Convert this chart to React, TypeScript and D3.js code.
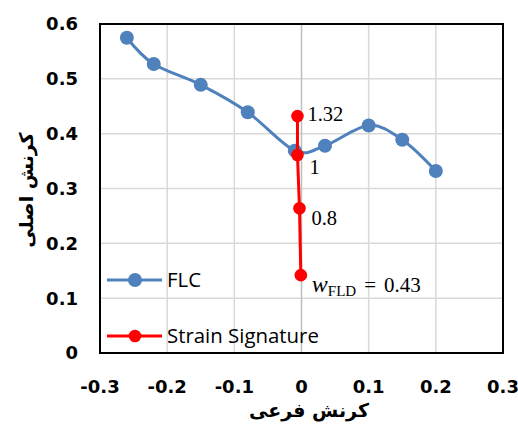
import React from "react";
import * as d3 from "d3";

const flcX = [-0.26, -0.22, -0.15, -0.08, -0.01, 0.035, 0.1, 0.15, 0.2];
const flcY = [0.575, 0.527, 0.489, 0.439, 0.369, 0.378, 0.415, 0.389, 0.332];
const sigX = [-0.006, -0.006, -0.003, -0.001];
const sigY = [0.432, 0.361, 0.264, 0.142];
const sigLabels = ["1.32", "1", "0.8"];
const xTicks = [-0.3, -0.2, -0.1, 0, 0.1, 0.2, 0.3];
const yTicks = [0, 0.1, 0.2, 0.3, 0.4, 0.5, 0.6];
const xTitle = "کرنش فرعی";
const yTitle = "کرنش اصلی";
const legendNames = ["FLC", "Strain Signature"];

const W = 518, H = 424;
const L = 100, R = 503, T = 24, B = 353;
const BLUE = "#4f81bd";
const RED = "#ff0000";

export default function App() {
  const x = d3.scaleLinear().domain([-0.3, 0.3]).range([L, R]);
  const y = d3.scaleLinear().domain([0, 0.6]).range([B, T]);
  const flc = flcX.map((v, i) => [v, flcY[i]] as [number, number]);
  const sig = sigX.map((v, i) => [v, sigY[i]] as [number, number]);
  const smooth = d3.line<[number, number]>().x(d => x(d[0])).y(d => y(d[1])).curve(d3.curveCatmullRom.alpha(0));
  const straight = d3.line<[number, number]>().x(d => x(d[0])).y(d => y(d[1]));
  const fmt = (v: number) => (v === 0 ? "0" : d3.format(".1f")(v).replace("\u2212", "-"));
  const tickFont = "'DejaVu Sans', sans-serif";
  const labelOffsets = [
    { dx: 10, dy: 5 },
    { dx: 12, dy: 19 },
    { dx: 12, dy: 17 },
  ];
  return (
    <svg width={W} height={H} style={{ position: "absolute", left: 0, top: 0, background: "#fff" }}>
      <rect x={0} y={0} width={W} height={H} fill="#fff" />
      {yTicks.filter(t => t > 0 && t < 0.6).map(t => (
        <line key={"gy" + t} x1={L} x2={R} y1={y(t)} y2={y(t)} stroke="#d9d9d9" strokeWidth={1.5} />
      ))}
      {xTicks.filter(t => t !== 0 && Math.abs(t) < 0.3).map(t => (
        <line key={"gx" + t} x1={x(t)} x2={x(t)} y1={T} y2={B} stroke="#d9d9d9" strokeWidth={1.5} />
      ))}
      <line x1={x(0)} x2={x(0)} y1={T} y2={B} stroke="#bfbfbf" strokeWidth={1.5} />
      <rect x={L} y={T} width={R - L} height={B - T} fill="none" stroke="#000" strokeWidth={2} />
      {yTicks.map(t => (
        <text key={"yt" + t} x={78} y={y(t)} dy="0.36em" textAnchor="end" fontFamily={tickFont} fontWeight="bold" fontSize={18} fill="#000">{fmt(t)}</text>
      ))}
      {xTicks.map(t => (
        <text key={"xt" + t} x={x(t)} y={387} dy="0.36em" textAnchor="middle" fontFamily={tickFont} fontWeight="bold" fontSize={18} fill="#000">{fmt(t)}</text>
      ))}
      <text x={309} y={410} dy="0.36em" textAnchor="middle" fontFamily="'DejaVu Sans', sans-serif" fontWeight="bold" fontSize={19} direction="rtl">{xTitle}</text>
      <text transform="translate(26,190) rotate(-90)" dy="0.36em" textAnchor="middle" fontFamily="'DejaVu Sans', sans-serif" fontWeight="bold" fontSize={19} direction="rtl">{yTitle}</text>

      <path d={smooth(flc) || ""} fill="none" stroke={BLUE} strokeWidth={3} />
      {flc.map((d, i) => (
        <circle key={"f" + i} cx={x(d[0])} cy={y(d[1])} r={7} fill={BLUE} />
      ))}
      <path d={straight(sig) || ""} fill="none" stroke={RED} strokeWidth={3} />
      {sig.map((d, i) => (
        <circle key={"s" + i} cx={x(d[0])} cy={y(d[1])} r={6.3} fill={RED} />
      ))}
      {sigLabels.map((s, i) => (
        <text key={"l" + i} x={x(sig[i][0]) + labelOffsets[i].dx} y={y(sig[i][1]) + labelOffsets[i].dy} fontFamily="'Liberation Serif', serif" fontSize={20.5} fill="#000">{s}</text>
      ))}
      <text x={x(sig[3][0]) + 11} y={y(sig[3][1]) + 17} fontFamily="'Liberation Serif', serif" fontSize={21} fill="#000">
        <tspan fontStyle="italic" fontSize={24}>w</tspan>
        <tspan fontSize={15} dy={4}>FLD</tspan>
        <tspan dy={-4} dx={8}>=</tspan>
        <tspan dx={8}>0.43</tspan>
      </text>

      {[BLUE, RED].map((c, i) => {
        const ly = i === 0 ? 280 : 336;
        return (
          <g key={"lg" + i}>
            <line x1={107} x2={162} y1={ly} y2={ly} stroke={c} strokeWidth={3} />
            <circle cx={135} cy={ly} r={i === 0 ? 7 : 6.3} fill={c} />
            <text x={167} y={ly} dy="0.36em" fontFamily="'Open Sans', sans-serif" fontSize={20.4} fill="#000">{legendNames[i]}</text>
          </g>
        );
      })}
    </svg>
  );
}
